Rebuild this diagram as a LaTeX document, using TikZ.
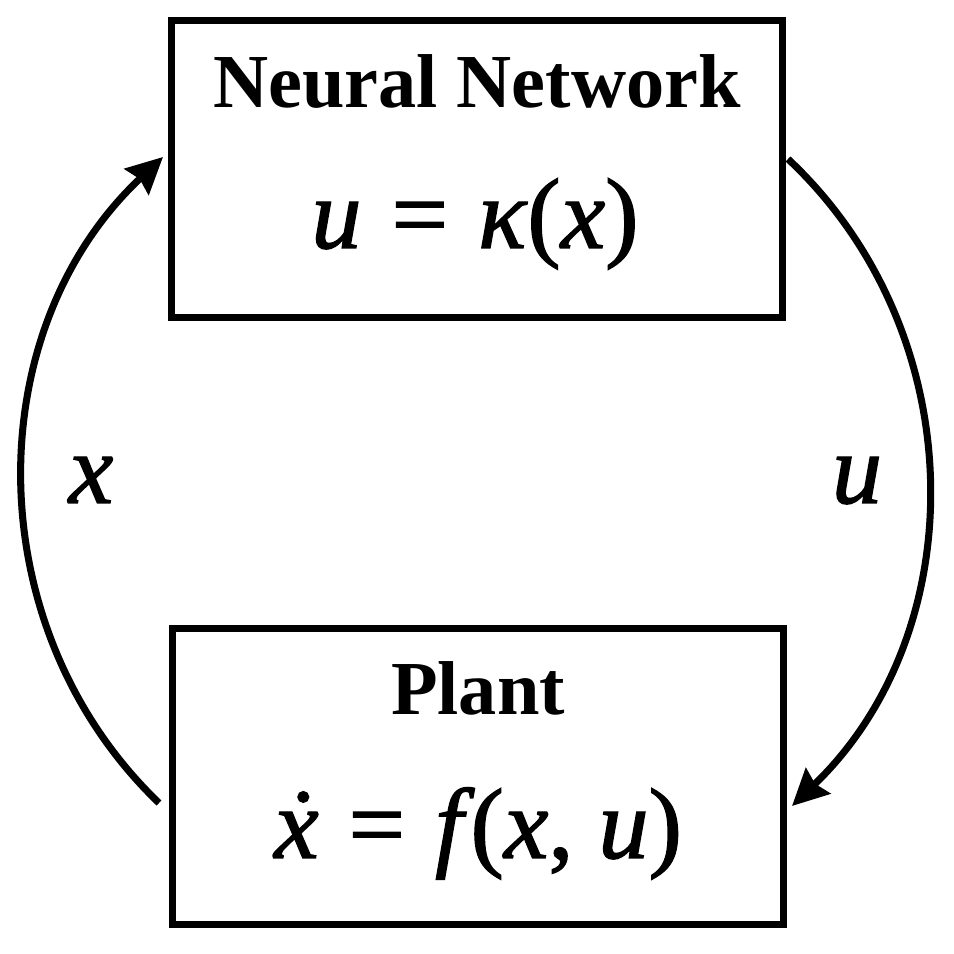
\documentclass[tikz,border=0pt]{standalone}
\usepackage{fontspec}
\setmainfont{Liberation Serif}
\newfontfamily\eqfont[FakeBold=1.4]{Liberation Serif}
\usetikzlibrary{arrows.meta}
\newcommand{\eqsign}{\kern0.3em=\kern0.3em}
\tikzset{
  block/.style={draw, line width=2pt, minimum width=6.1cm, minimum height=2.96cm, inner sep=0pt},
  title/.style={anchor=base, inner sep=0pt, font=\bfseries\fontsize{21.7}{26}\selectfont},
  eqn/.style={anchor=base, inner sep=0pt, font=\eqfont\fontsize{28.5}{32}\selectfont},
  flow/.style={line width=2pt, -{Stealth[length=0.36cm, width=0.35cm, inset=0.04cm]}}
}
\begin{document}
\begin{tikzpicture}[x=0.01cm, y=0.01cm]
\useasboundingbox (0,0) rectangle (953,954);
\node[block] (nn) at (477,785) {};
\node[block] (plant) at (478,177.5) {};
\node[title] (nntitle) at (477,846) {Neural Network};
\node[eqn] (nneq) at (475,706) {\textit{u}\eqsign\textit{κ}(\textit{x})};
\node[title] (planttitle) at (478,239) {Plant};
\node[eqn] (planteq) at (478,96) {\textit{ẋ}\eqsign\textit{f}\kern-0.04em(\textit{x}, \textit{u})};
\node[eqn] (xlabel) at (91,451) {\textit{x}};
\node[eqn] (ulabel) at (857,451) {\textit{u}};
\coordinate (xs) at (159,151);
\coordinate (xe) at (163,797);
\coordinate (us) at (788,795);
\coordinate (ue) at (792,148);
\draw[flow] (xs) to[bend left=46.5] (xe);
\draw[flow] (us) to[bend left=46.5] (ue);
\end{tikzpicture}
\end{document}
